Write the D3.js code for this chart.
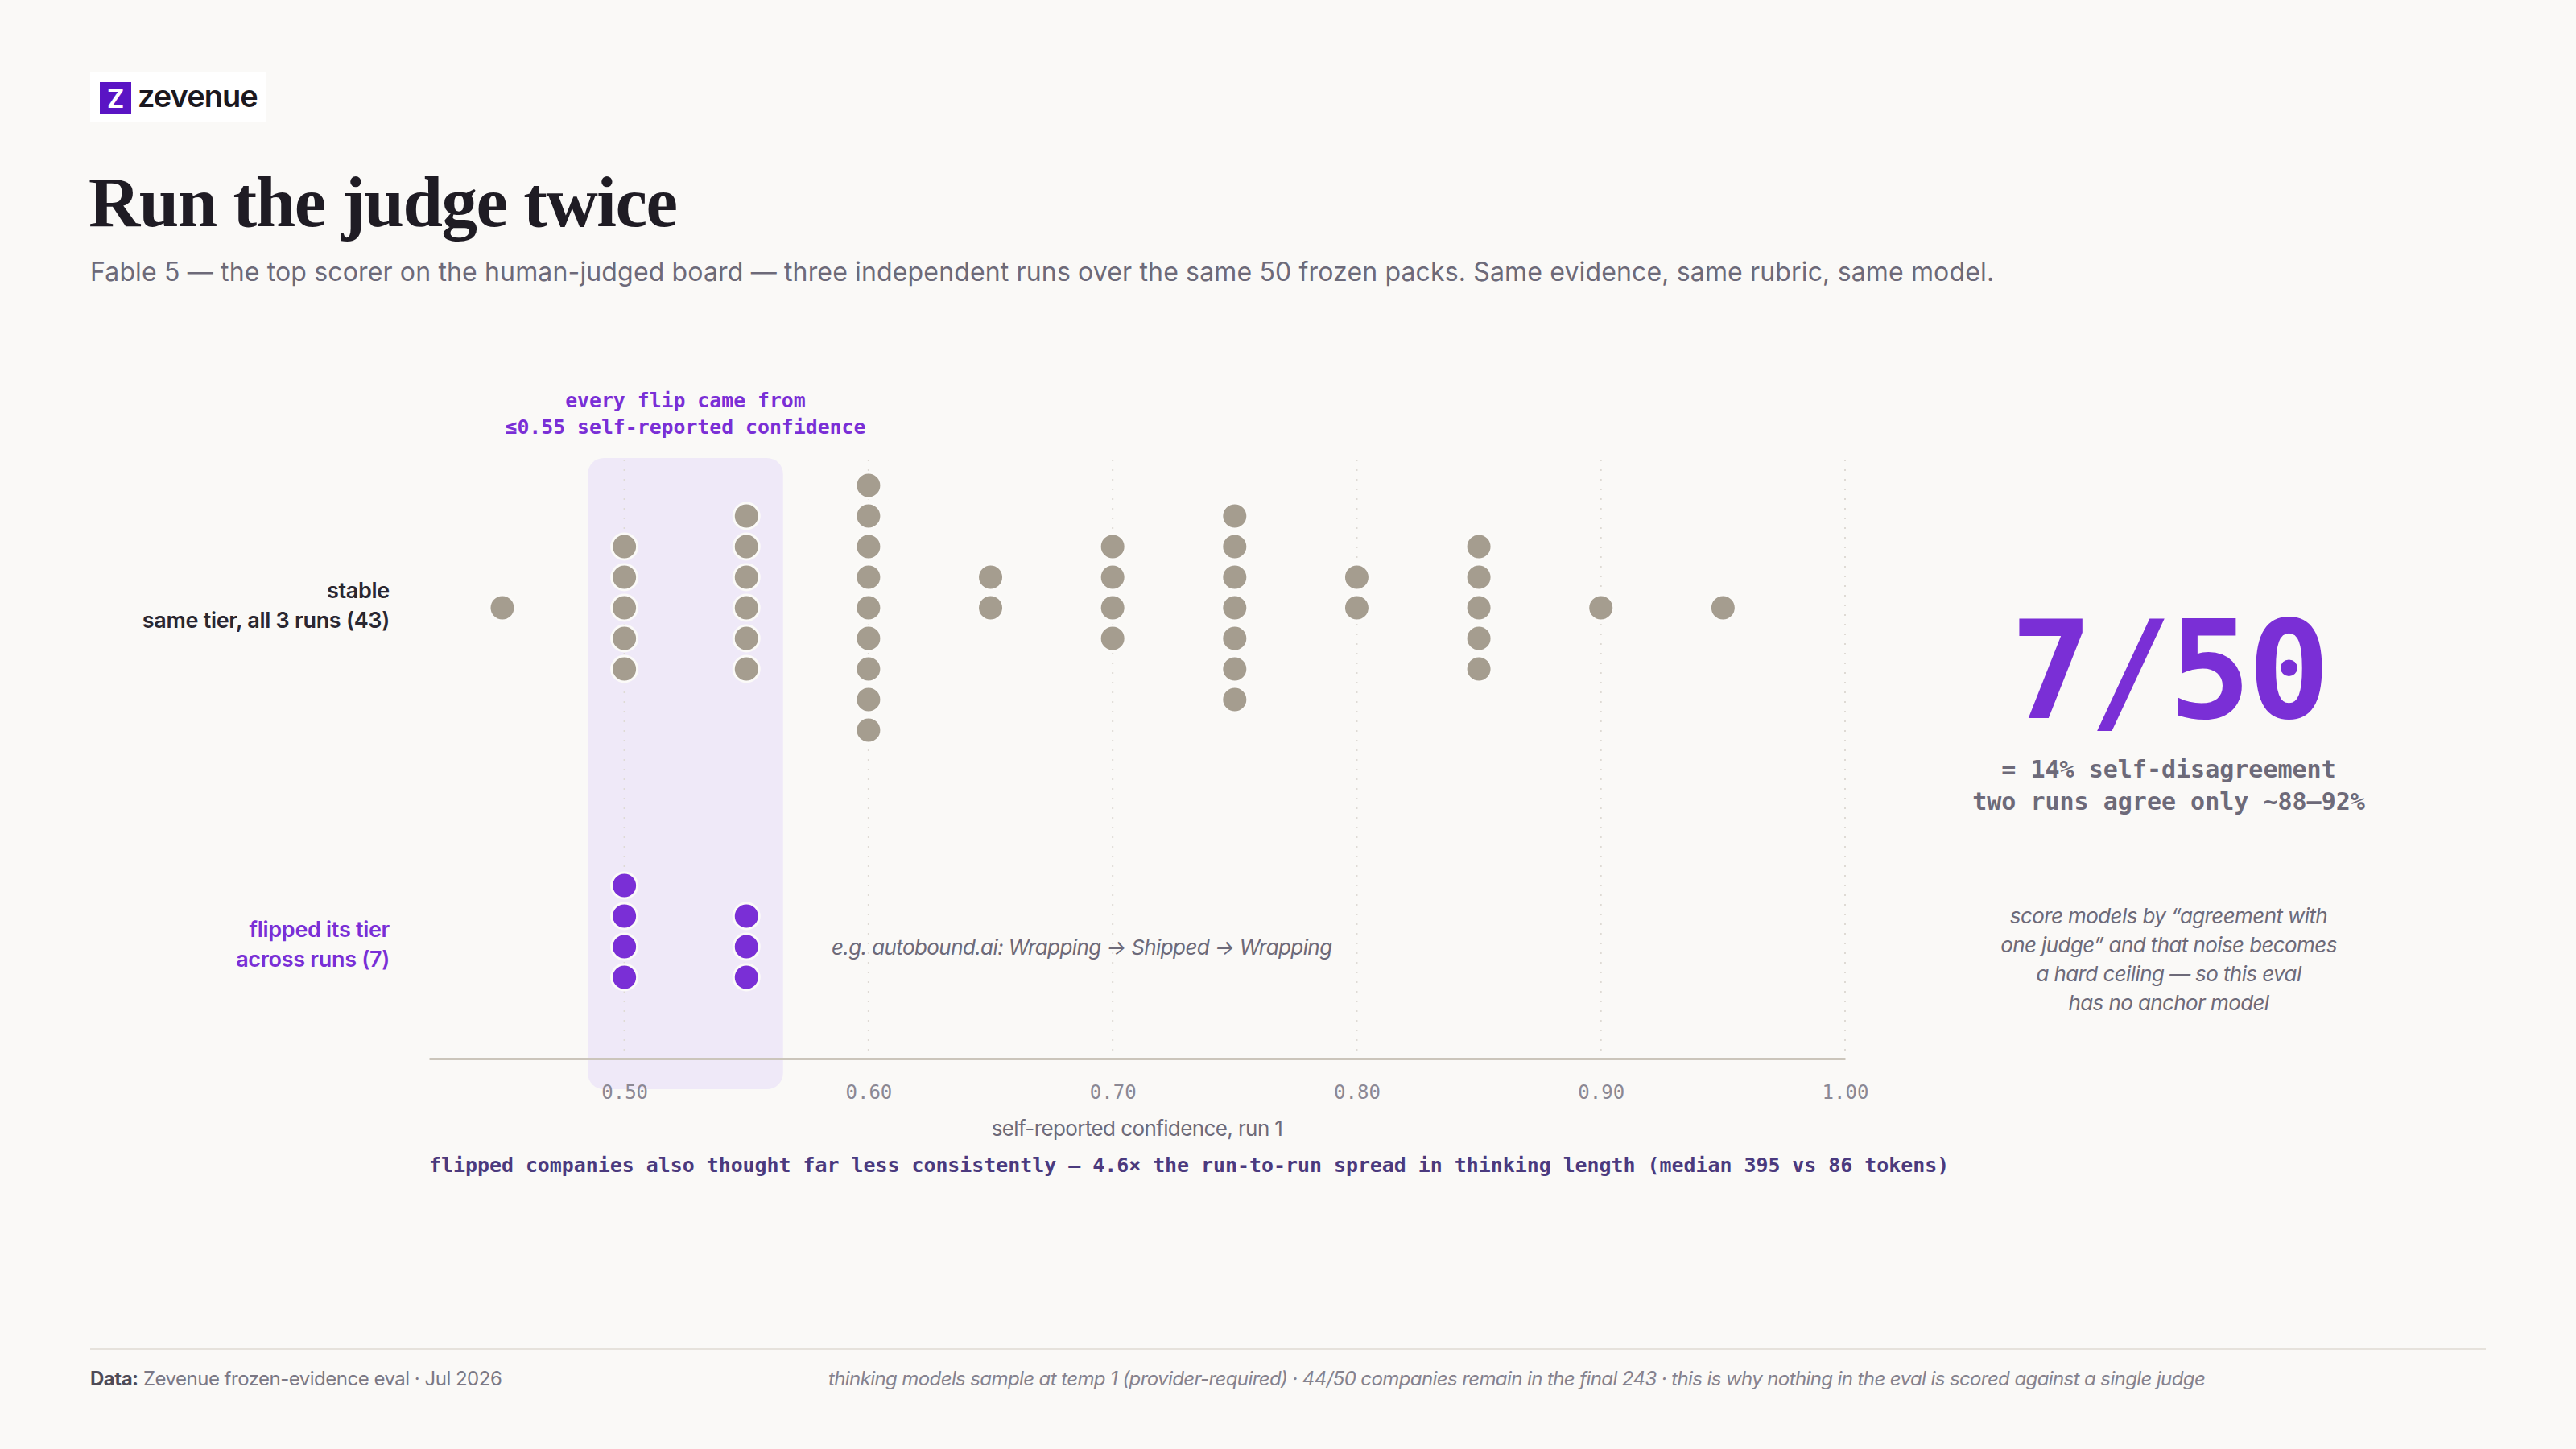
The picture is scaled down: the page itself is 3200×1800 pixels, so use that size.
<!DOCTYPE html>
<html>
<head>
<meta charset="utf-8">
<script src="https://cdn.jsdelivr.net/npm/d3@7"></script>
<style>
  html, body { margin: 0; padding: 0; background: #faf9f7; }
  svg { display: block; }
</style>
</head>
<body>
<svg id="chart" width="3200" height="1800"></svg>
<script>
// Data
const confidenceLevels = [0.45, 0.50, 0.55, 0.60, 0.65, 0.70, 0.75, 0.80, 0.85, 0.90, 0.95]
const stableCounts    = [1, 5, 6, 9, 2, 4, 7, 2, 5, 1, 1]
const flippedCounts   = [0, 4, 3, 0, 0, 0, 0, 0, 0, 0, 0]
const rowNames = ['stable', 'flipped']
const tickValues = [0.50, 0.60, 0.70, 0.80, 0.90, 1.00]
const flipBand = [0.485, 0.565]

// Colors and fonts
const bg = '#faf9f7'
const purple = '#7a2fd6'
const dotGray = '#a59d8f'
const textGray = '#6d6a79'
const sans = 'Inter, "Noto Sans", sans-serif'
const mono = '"DejaVu Sans Mono", monospace'

const svg = d3.select('#chart')
svg.append('rect').attr('width', 3200).attr('height', 1800).attr('fill', bg)

// Scales
const x = d3.scaleLinear().domain([0.42, 1.0]).range([533, 2292])
const yRow = d3.scaleOrdinal().domain(rowNames).range([755, 1176])
const stackStep = 38
const plotTop = 571
const plotBottom = 1315

// Logo
const logo = svg.append('g')
logo.append('rect').attr('x', 112).attr('y', 90).attr('width', 219).attr('height', 61).attr('fill', '#ffffff')
logo.append('rect').attr('x', 124).attr('y', 102).attr('width', 39).attr('height', 39).attr('fill', '#5a14c4')
logo.append('text').attr('x', 143.5).attr('y', 134).attr('text-anchor', 'middle')
    .style('font-family', sans).style('font-weight', 700).style('font-size', '32px').attr('fill', '#ffffff').text('Z')
logo.append('text').attr('x', 171).attr('y', 133)
    .style('font-family', sans).style('font-weight', 600).style('font-size', '38px').style('letter-spacing', '-1px')
    .attr('fill', '#1b1820').text('zevenue')

// Title + subtitle
svg.append('text').attr('x', 110).attr('y', 281)
    .style('font-family', '"Liberation Serif", "DejaVu Serif", serif').style('font-weight', 700).style('font-size', '89px')
    .style('letter-spacing', '-1.5px')
    .attr('fill', '#1f1c24').text('Run the judge twice')
svg.append('text').attr('x', 112).attr('y', 349)
    .style('font-family', sans).style('font-size', '32px').style('letter-spacing', '0.15px')
    .attr('fill', textGray)
    .text('Fable 5 \u2014 the top scorer on the human-judged board \u2014 three independent runs over the same 50 frozen packs. Same evidence, same rubric, same model.')

// Highlight band
svg.append('rect')
    .attr('x', x(flipBand[0])).attr('y', plotTop - 2)
    .attr('width', x(flipBand[1]) - x(flipBand[0])).attr('height', 1353 - plotTop + 2)
    .attr('rx', 20).attr('fill', '#efe9f8')

// Grid lines
svg.append('g').selectAll('line').data(tickValues).join('line')
    .attr('x1', d => x(d)).attr('x2', d => x(d))
    .attr('y1', plotTop).attr('y2', plotBottom)
    .attr('stroke', '#dedad4').attr('stroke-width', 2).attr('stroke-dasharray', '2,10')

// Axis
const axis = d3.axisBottom(x).tickValues(tickValues).tickFormat(d3.format('.2f')).tickSize(0).tickPadding(33)
const axisG = svg.append('g').attr('transform', `translate(0,${plotBottom})`).call(axis)
axisG.select('.domain').attr('stroke', '#cbc5bb').attr('stroke-width', 3)
axisG.selectAll('text').style('font-family', mono).style('font-size', '24px').attr('fill', '#8b8894')

svg.append('text').attr('x', (x.range()[0] + x.range()[1]) / 2).attr('y', 1411).attr('text-anchor', 'middle')
    .style('font-family', sans).style('font-size', '26px').style('letter-spacing', '-0.6px').attr('fill', textGray)
    .text('self-reported confidence, run 1')

svg.append('text').attr('x', 533).attr('y', 1456)
    .style('font-family', mono).style('font-weight', 700).style('font-size', '24.9px').attr('fill', '#4b3a7e')
    .text('flipped companies also thought far less consistently \u2014 4.6\u00d7 the run-to-run spread in thinking length (median 395 vs 86 tokens)')

// Annotation above band
const bandMid = (x(flipBand[0]) + x(flipBand[1])) / 2
const ann = svg.append('text').attr('text-anchor', 'middle')
    .style('font-family', mono).style('font-weight', 700).style('font-size', '24.8px').attr('fill', purple)
ann.append('tspan').attr('x', bandMid).attr('y', 506).text('every flip came from')
ann.append('tspan').attr('x', bandMid).attr('y', 539).text('\u22640.55 self-reported confidence')

// Dots
function expand(counts, row) {
    const out = []
    counts.forEach((n, i) => {
        for (let k = 0; k < n; ++k) {
            out.push({ value: confidenceLevels[i], row: row, offset: k - Math.floor(n / 2) })
        }
    })
    return out
}
const dots = expand(stableCounts, 'stable').concat(expand(flippedCounts, 'flipped'))

svg.append('g').selectAll('circle').data(dots).join('circle')
    .attr('cx', d => x(d.value))
    .attr('cy', d => yRow(d.row) + d.offset * stackStep)
    .attr('r', 16)
    .attr('fill', d => d.row === 'flipped' ? purple : dotGray)
    .attr('stroke', '#fbfaf8').attr('stroke-width', 3)

// Row labels
const rowLabels = {
    stable: { lines: ['stable', 'same tier, all 3 runs (43)'], color: '#2a2731' },
    flipped: { lines: ['flipped its tier', 'across runs (7)'], color: purple }
}
rowNames.forEach(r => {
    const t = svg.append('text').attr('text-anchor', 'end')
        .style('font-family', sans).style('font-weight', 600).style('font-size', '27px').style('letter-spacing', '-0.3px')
        .attr('fill', rowLabels[r].color)
    rowLabels[r].lines.forEach((l, i) => {
        t.append('tspan').attr('x', 484).attr('y', yRow(r) - 12 + i * 37).text(l)
    })
})

svg.append('text').attr('x', 1033).attr('y', 1186)
    .style('font-family', sans).style('font-style', 'italic').style('font-size', '26px').style('letter-spacing', '-0.6px')
    .attr('fill', textGray)
    .text('e.g. autobound.ai: Wrapping \u2192 Shipped \u2192 Wrapping')

// Right panel
const cx = 2694
svg.append('text').attr('x', cx).attr('y', 892).attr('text-anchor', 'middle')
    .style('font-family', mono).style('font-weight', 700).style('font-size', '170px').style('letter-spacing', '-4px')
    .attr('fill', purple).text('7/50')
const stat = svg.append('text').attr('text-anchor', 'middle')
    .style('font-family', mono).style('font-weight', 700).style('font-size', '30px').attr('fill', textGray)
stat.append('tspan').attr('x', cx).attr('y', 966).text('= 14% self-disagreement')
stat.append('tspan').attr('x', cx).attr('y', 1006).text('two runs agree only ~88\u201392%')

const noteLines = ['score models by \u201cagreement with', 'one judge\u201d and that noise becomes', 'a hard ceiling \u2014 so this eval', 'has no anchor model']
const note = svg.append('text').attr('text-anchor', 'middle')
    .style('font-family', sans).style('font-style', 'italic').style('font-size', '26px').style('letter-spacing', '-0.6px')
    .attr('fill', textGray)
noteLines.forEach((l, i) => note.append('tspan').attr('x', cx).attr('y', 1147 + i * 36).text(l))

// Footer
svg.append('line').attr('x1', 112).attr('x2', 3088).attr('y1', 1676).attr('y2', 1676)
    .attr('stroke', '#e6e2dc').attr('stroke-width', 2)
const src = svg.append('text').attr('x', 112).attr('y', 1721)
    .style('font-family', sans).style('font-size', '24px').style('letter-spacing', '-0.5px').attr('fill', '#7b7885')
src.append('tspan').style('font-weight', 700).attr('fill', '#4e4b57').text('Data:')
src.append('tspan').text(' Zevenue frozen-evidence eval \u00b7 Jul 2026')
svg.append('text').attr('x', 1029).attr('y', 1721)
    .style('font-family', sans).style('font-style', 'italic').style('font-size', '24px').style('letter-spacing', '-0.6px')
    .attr('fill', '#85828e')
    .text('thinking models sample at temp 1 (provider-required) \u00b7 44/50 companies remain in the final 243 \u00b7 this is why nothing in the eval is scored against a single judge')
</script>
</body>
</html>
